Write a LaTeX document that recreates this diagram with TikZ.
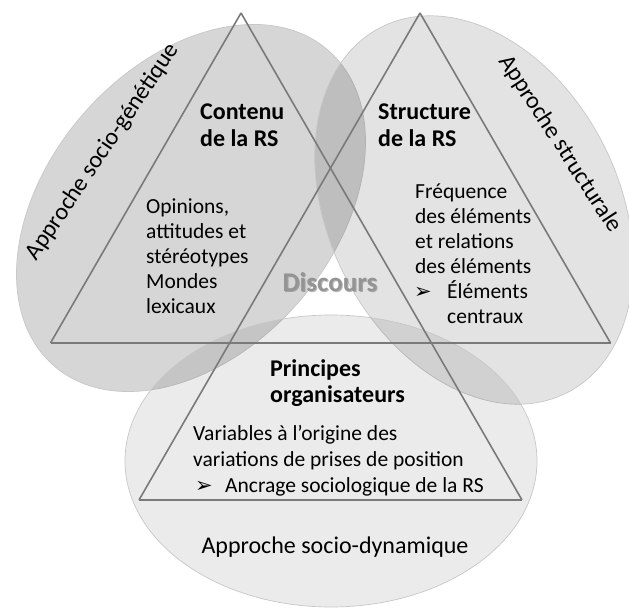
\documentclass[tikz,border=0pt]{standalone}
\usepackage{fontspec}
\setmainfont{Carlito}
\newfontfamily\dejavu{DejaVu Sans}
\begin{document}
\begin{tikzpicture}[x=1pt,y=1pt,
  tri/.style={draw=black!52, line width=1.6pt},
  ell/.style={draw=black!22, line width=0.7pt},
  txt/.style={anchor=base west, inner sep=0pt, font=\fontsize{21.5}{25}\selectfont},
  ttl/.style={anchor=base west, inner sep=0pt, font=\fontsize{24}{27}\selectfont\bfseries},
  rot/.style={inner sep=0pt, font=\fontsize{24}{28}\selectfont},
  bul/.style={anchor=base west, inner sep=0pt, font=\dejavu\fontsize{21}{25}\selectfont},
  dsc/.style={inner sep=0pt, font=\fontsize{27}{30}\selectfont\bfseries},
]
\useasboundingbox (0,0) rectangle (629,608);
\fill[white] (0,0) rectangle (629,608);
% ellipses
\filldraw[ell, fill=black, fill opacity=0.16, rotate around={49:(191,400)}] (191,400) ellipse (209 and 143);
\filldraw[ell, fill=black, fill opacity=0.11, rotate around={-63:(474,398)}] (474,398) ellipse (205 and 145);
\filldraw[ell, fill=black, fill opacity=0.08] (331,147) ellipse (206 and 146);
% triangles
\coordinate (P1) at (241,595);
\coordinate (P2) at (420,595);
\coordinate (L1) at (50.5,265);
\coordinate (R2) at (610.5,265);
\coordinate (BL) at (139,108);
\coordinate (BR) at (522,108);
\draw[tri] (P1) -- (L1);
\draw[tri] (P1) -- (BR);
\draw[tri] (P2) -- (BL);
\draw[tri] (P2) -- (R2);
\draw[tri] (L1) -- (R2);
\draw[tri] (BL) -- (BR);
% Discours (soft shadow, then text)
\node (discsh) [dsc, text=black!75, opacity=0.35] at (331,325) {Discours};
\node (disc) [dsc, text=black!42] at (330,326) {Discours};
% Contenu
\node (c1) [ttl] at (200,488) {Contenu};
\node (c2) [ttl] at (200,461) {de la RS};
\node (o1) [txt] at (146,394) {Opinions,};
\node (o2) [txt] at (146,369) {attitudes et};
\node (o3) [txt] at (146,344) {stéréotypes};
\node (o4) [txt] at (146,319) {Mondes};
\node (o5) [txt] at (146,294) {lexicaux};
% Structure
\node (s1) [ttl] at (378,488) {Structure};
\node (s2) [ttl] at (378,461) {de la RS};
\node (f1) [txt] at (415,409) {Fréquence};
\node (f2) [txt] at (415,384) {des éléments};
\node (f3) [txt] at (415,359) {et relations};
\node (f4) [txt] at (415,334) {des éléments};
\node (f5b) [bul] at (414,309) {➢};
\node (f5) [txt] at (447,309) {Éléments};
\node (f6) [txt] at (447,284) {centraux};
% Principes
\node (p1) [ttl] at (270,231) {Principes};
\node (p2) [ttl] at (270,205) {organisateurs};
\node (v1) [txt] at (193,167) {Variables à l’origine des};
\node (v2) [txt] at (193,141) {variations de prises de position};
\node (v3b) [bul] at (195,115) {➢};
\node (v3) [txt] at (225,115) {Ancrage sociologique de la RS};
% approaches
\node (a3) [rot, anchor=base] at (335,55) {Approche socio-dynamique};
\node (a1) [rot, rotate=56] at (103,456) {Approche socio-génétique};
\node (a2) [rot, rotate=-57] at (560,464) {Approche structurale};
\end{tikzpicture}
\end{document}
